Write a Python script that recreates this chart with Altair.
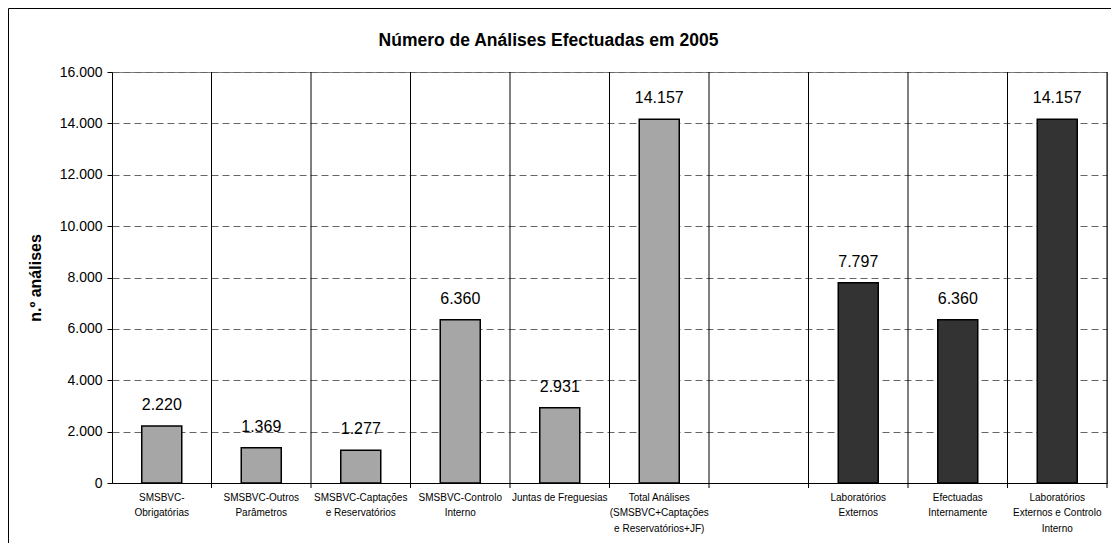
import altair as alt
import pandas as pd

# ---- data ----
categories = [
    "SMSBVC-|Obrigatórias",
    "SMSBVC-Outros|Parâmetros",
    "SMSBVC-Captações|e Reservatórios",
    "SMSBVC-Controlo|Interno",
    "Juntas de Freguesias",
    "Total Análises|(SMSBVC+Captações|e Reservatórios+JF)",
    " ",
    "Laboratórios|Externos",
    "Efectuadas|Internamente",
    "Laboratórios|Externos e Controlo|Interno",
]
values = [2220, 1369, 1277, 6360, 2931, 14157, None, 7797, 6360, 14157]
groups = ["SMSBVC", "SMSBVC", "SMSBVC", "SMSBVC", "SMSBVC", "SMSBVC", "",
          "Lab", "Lab", "Lab"]
y_ticks = [0, 2000, 4000, 6000, 8000, 10000, 12000, 14000, 16000]
title_text = "Número de Análises Efectuadas em 2005"
y_title = "n.º análises"

bars_df = pd.DataFrame(
    [{"cat": c, "v": v, "g": g} for c, v, g in zip(categories, values, groups) if v is not None]
)
cats_df = pd.DataFrame({"cat": categories})

SANS = "Liberation Sans, Arial, sans-serif"
W, H = 995, 411

x_scale = alt.Scale(domain=categories, paddingInner=0, paddingOuter=0)
x_axis = alt.Axis(
    title=None, labelAngle=0, labelExpr="split(datum.label, '|')",
    labelFont=SANS, labelFontSize=10, labelLineHeight=15.5, labelColor="black",
    labelPadding=9, labelBaseline="top", ticks=False, grid=False,
    domainColor="black", domainWidth=1, labelLimit=200,
)
y_axis = alt.Axis(
    values=y_ticks, labelExpr="replace(format(datum.value, ','), ',', '.')",
    title=y_title, titleFont=SANS, titleFontSize=16, titleFontWeight="bold",
    titleColor="black", titlePadding=16,
    labelFont=SANS, labelFontSize=14, labelColor="black", labelPadding=5,
    tickSize=5, tickColor="black", domainColor="black", domainWidth=1,
    grid=True, gridColor="#666666", gridDash=[7, 4], gridWidth=1,
)

x_enc = alt.X("cat:N", scale=x_scale, sort=categories, axis=x_axis)
y_enc = alt.Y("v:Q", scale=alt.Scale(domain=[0, 16000]), axis=y_axis)

bars = alt.Chart(bars_df).mark_bar(size=40, stroke="black", strokeWidth=1.5).encode(
    x=x_enc,
    y=y_enc,
    color=alt.Color("g:N", scale=alt.Scale(domain=["SMSBVC", "Lab"], range=["#a6a6a6", "#333333"]),
                    legend=None),
)

labels = alt.Chart(bars_df).mark_text(
    baseline="alphabetic", dy=-16, fontSize=16, font=SANS, color="black"
).transform_calculate(
    lbl="replace(format(datum.v, ','), ',', '.')"
).encode(x=x_enc, y=y_enc, text="lbl:N")

seps = alt.Chart(cats_df).mark_rule(color="black", strokeWidth=1).encode(
    x=alt.X("cat:N", scale=x_scale, sort=categories, bandPosition=1, axis=x_axis),
    y=alt.value(0),
    y2=alt.value(H + 5),
)

frame = alt.Chart(pd.DataFrame({"a": [0]})).mark_rect(
    fill="transparent", stroke="black", strokeWidth=1
).encode(
    x=alt.value(-103.5), x2=alt.value(W + 60),
    y=alt.value(-63.5), y2=alt.value(H + 120),
)

chart = alt.layer(frame, seps, bars, labels).properties(
    width=W, height=H,
    title=alt.Title(title_text, font=SANS, fontSize=17.5, fontWeight="bold", color="black",
                    anchor="middle", frame="group", dx=-61, baseline="alphabetic", offset=-55),
    autosize=alt.AutoSizeParams(type="none"),
    padding={"left": 104, "top": 64, "right": 4, "bottom": 60},
    background="white",
).configure_view(stroke="#808080", strokeWidth=1)

chart.save("out.html", embed_options={"renderer": "svg", "actions": False})
